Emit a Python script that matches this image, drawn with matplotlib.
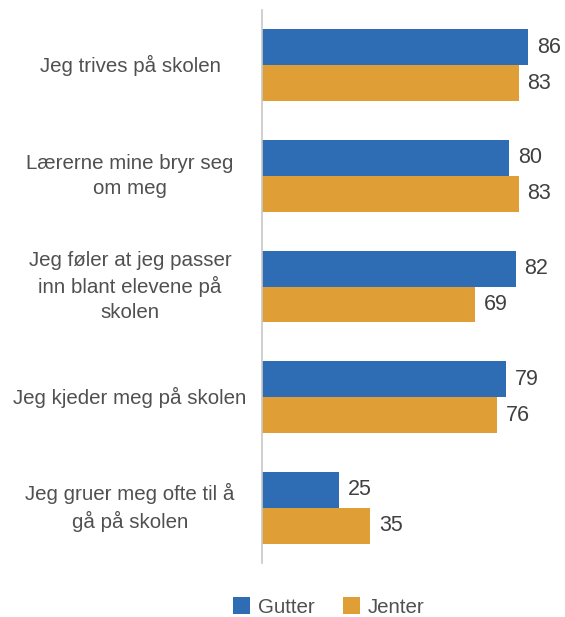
import matplotlib.pyplot as plt
import numpy as np

categories = [
    "Jeg trives på skolen",
    "Lærerne mine bryr seg\nom meg",
    "Jeg føler at jeg passer\ninn blant elevene på\nskolen",
    "Jeg kjeder meg på skolen",
    "Jeg gruer meg ofte til å\ngå på skolen",
]
gutter = [86, 80, 82, 79, 25]
jenter = [83, 83, 69, 76, 35]

blue = "#2E6DB4"
orange = "#E09E36"
text_col = "#505050"
fs = 14.8

plt.rcParams['font.family'] = ['Liberation Sans', 'DejaVu Sans']

fig = plt.figure(figsize=(5.65, 6.17), dpi=100)
ax = fig.add_axes([262 / 565, 1 - 563 / 617, 303 / 565, 553 / 617])

y = np.arange(len(categories))
h = 0.325
b1 = ax.barh(y - h / 2, gutter, height=h, color=blue, label="Gutter")
b2 = ax.barh(y + h / 2, jenter, height=h, color=orange, label="Jenter")

for bars, vals in [(b1, gutter), (b2, jenter)]:
    for bar, v in zip(bars, vals):
        ax.annotate(str(v), (bar.get_width(), bar.get_y() + bar.get_height() / 2),
                    xytext=(9, 0), textcoords="offset pixels", va="center", ha="left",
                    fontsize=15.5, color="#404040")

ax.set_xlim(0, 98)
ax.set_ylim(4.5, -0.5)
ax.set_xticks([])
ax.set_yticks([])
for s in ["top", "right", "bottom"]:
    ax.spines[s].set_visible(False)
ax.spines["left"].set_color("#C8C8C8")
ax.spines["left"].set_linewidth(1.2)

trans = ax.get_yaxis_transform()
for i, c in enumerate(categories):
    ax.text(-132 / 303, i, c, transform=trans, ha="center", va="center",
            multialignment="center", fontsize=fs, color=text_col, linespacing=1.38)

fig.legend(handles=[b1, b2], loc="center", bbox_to_anchor=(329 / 565, 1 - 607 / 617),
           ncol=2, frameon=False, fontsize=fs, labelcolor=text_col,
           handlelength=0.8, handleheight=0.9, handletextpad=0.4, columnspacing=1.4)

fig.savefig("out.png", dpi=100)
